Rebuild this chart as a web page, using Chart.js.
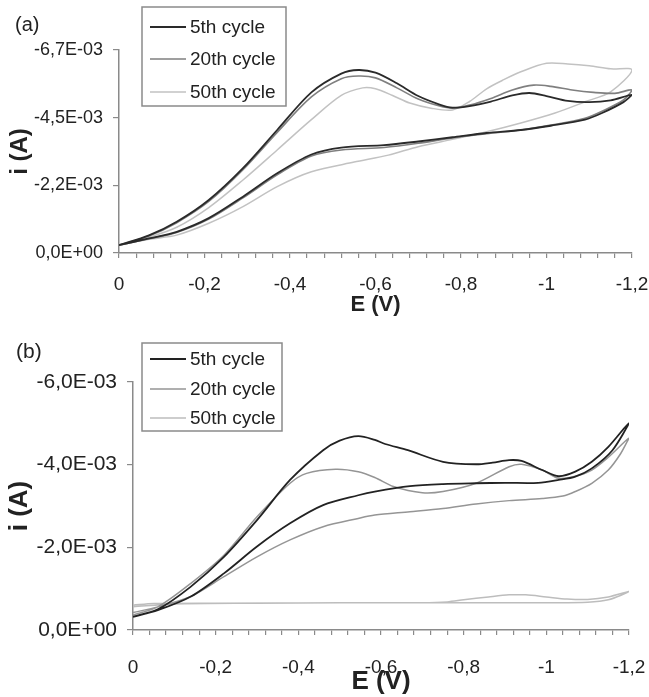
<!DOCTYPE html>
<html>
<head>
<meta charset="utf-8">
<script src="https://cdn.jsdelivr.net/npm/chart.js@4.4.0/dist/chart.umd.min.js"></script>
<style>
  body { margin: 0; background: #fff; }
  canvas { position: absolute; left: 0; }
  #chartA { top: 0; }
  #chartB { top: 330px; }
</style>
</head>
<body>
<canvas id="chartA" width="649" height="325"></canvas>
<canvas id="chartB" width="649" height="367"></canvas>
<script>
// potentials in V, currents in mA (scan 0 -> -1.2 V and back)
const a5E = [0,-0.07,-0.135,-0.21,-0.29,-0.37,-0.45,-0.52,-0.56,-0.6,-0.65,-0.7,-0.75,-0.78,-0.82,-0.87,-0.92,-0.96,-1.0,-1.05,-1.1,-1.15,-1.2,
  -1.18,-1.13,-1.09,-1.01,-0.94,-0.86,-0.78,-0.7,-0.62,-0.52,-0.45,-0.37,-0.29,-0.21,-0.135,-0.07,0];
const a5I = [-0.26,-0.58,-1.03,-1.75,-2.8,-4.06,-5.3,-5.92,-6.04,-5.95,-5.6,-5.18,-4.9,-4.8,-4.85,-5.0,-5.2,-5.28,-5.18,-5.02,-4.98,-5.04,-5.22,
  -4.98,-4.62,-4.4,-4.2,-4.06,-3.96,-3.82,-3.68,-3.56,-3.48,-3.25,-2.63,-1.86,-1.15,-0.7,-0.48,-0.26];

const a20E = [0,-0.07,-0.135,-0.21,-0.29,-0.37,-0.45,-0.52,-0.56,-0.6,-0.65,-0.7,-0.75,-0.78,-0.82,-0.87,-0.92,-0.97,-1.01,-1.06,-1.11,-1.16,-1.2,
  -1.18,-1.13,-1.09,-1.01,-0.94,-0.86,-0.78,-0.7,-0.62,-0.52,-0.45,-0.37,-0.29,-0.21,-0.135,-0.07,0];
const a20I = [-0.26,-0.56,-1.0,-1.7,-2.75,-3.98,-5.15,-5.75,-5.84,-5.78,-5.45,-5.08,-4.85,-4.78,-4.88,-5.1,-5.38,-5.54,-5.5,-5.38,-5.3,-5.27,-5.38,
  -5.05,-4.68,-4.45,-4.22,-4.06,-3.94,-3.8,-3.62,-3.48,-3.4,-3.2,-2.58,-1.82,-1.12,-0.68,-0.47,-0.26];

const a50E = [0,-0.07,-0.135,-0.21,-0.29,-0.37,-0.45,-0.52,-0.57,-0.6,-0.64,-0.68,-0.73,-0.78,-0.82,-0.86,-0.9,-0.94,-1.0,-1.05,-1.1,-1.15,-1.2,
  -1.15,-1.09,-1.02,-0.94,-0.86,-0.78,-0.7,-0.63,-0.55,-0.45,-0.37,-0.29,-0.21,-0.135,-0.07,0];
const a50I = [-0.26,-0.52,-0.85,-1.5,-2.41,-3.4,-4.4,-5.2,-5.45,-5.42,-5.2,-4.95,-4.78,-4.72,-5.0,-5.42,-5.72,-5.98,-6.26,-6.24,-6.18,-6.08,-6.04,
  -5.32,-4.99,-4.62,-4.29,-4.0,-3.75,-3.51,-3.23,-3.0,-2.68,-2.19,-1.53,-0.98,-0.59,-0.45,-0.26];

const b5E = [0,-0.06,-0.14,-0.22,-0.3,-0.38,-0.46,-0.5,-0.545,-0.585,-0.61,-0.665,-0.75,-0.83,-0.87,-0.91,-0.94,-0.99,-1.03,-1.07,-1.11,-1.15,-1.2,
  -1.16,-1.11,-1.07,-1.03,-0.98,-0.9,-0.83,-0.75,-0.67,-0.585,-0.545,-0.46,-0.38,-0.3,-0.22,-0.14,-0.06,0];
const b5I = [-0.32,-0.5,-1.05,-1.77,-2.66,-3.63,-4.35,-4.58,-4.69,-4.6,-4.5,-4.35,-4.07,-4.01,-4.05,-4.11,-4.09,-3.87,-3.72,-3.83,-4.07,-4.43,-5.01,
  -4.35,-3.91,-3.71,-3.63,-3.56,-3.56,-3.55,-3.53,-3.48,-3.35,-3.26,-3.02,-2.58,-2.02,-1.37,-0.81,-0.48,-0.32];

const b20E = [0,-0.06,-0.14,-0.22,-0.3,-0.38,-0.42,-0.49,-0.545,-0.585,-0.63,-0.7,-0.75,-0.83,-0.91,-0.94,-0.99,-1.03,-1.07,-1.11,-1.15,-1.2,
  -1.18,-1.15,-1.11,-1.07,-1.04,-0.99,-0.91,-0.83,-0.75,-0.67,-0.585,-0.545,-0.46,-0.38,-0.3,-0.22,-0.14,-0.06,0];
const b20I = [-0.36,-0.56,-1.13,-1.81,-2.74,-3.55,-3.79,-3.89,-3.83,-3.69,-3.47,-3.32,-3.35,-3.55,-3.95,-4.01,-3.87,-3.67,-3.72,-3.87,-4.18,-4.64,
  -4.27,-3.87,-3.55,-3.35,-3.24,-3.18,-3.13,-3.05,-2.94,-2.86,-2.78,-2.7,-2.5,-2.18,-1.77,-1.29,-0.81,-0.56,-0.42];

const b50E = [0,-0.1,-0.3,-0.5,-0.7,-0.76,-0.8,-0.86,-0.91,-0.95,-1.0,-1.05,-1.1,-1.15,-1.2,
  -1.15,-1.1,-1.0,-0.8,-0.5,-0.2,-0.05,0];
const b50I = [-0.56,-0.63,-0.65,-0.66,-0.66,-0.68,-0.73,-0.8,-0.85,-0.85,-0.8,-0.75,-0.74,-0.8,-0.93,
  -0.73,-0.67,-0.66,-0.66,-0.66,-0.65,-0.64,-0.6];

const cycleLabels = ["5th cycle", "20th cycle", "50th cycle"];
const yTicksA = [0, -0.0022333, -0.0044667, -0.0067];
const yTicksB = [0, -0.002, -0.004, -0.006];
const xMajor = [0, -0.2, -0.4, -0.6, -0.8, -1, -1.2];
const xLabels = ["0", "-0,2", "-0,4", "-0,6", "-0,8", "-1", "-1,2"];

const FONT = "Arial, 'Liberation Sans', sans-serif";

function fmtCurrent(v) {
  if (Math.abs(v) < 1e-9) return "0,0E+00";
  return (v * 1000).toFixed(1).replace(".", ",") + "E-03";
}

// minor ticks every 0.04 V
const xMinor = [];
for (let k = 0; k <= 30; k++) xMinor.push(-k * 0.04);

const panelDecor = {
  id: "panelDecor",
  afterDraw(chart, args, o) {
    const ctx = chart.ctx;
    ctx.save();
    ctx.fillStyle = "#222";
    ctx.textBaseline = "middle";
    ctx.font = o.tagFont;
    ctx.fillText(o.tag, o.tagX, o.tagY);
    const b = o.box;
    ctx.fillStyle = "#fff";
    ctx.fillRect(b[0], b[1], b[2], b[3]);
    ctx.strokeStyle = "#8a8a8a";
    ctx.lineWidth = 1.5;
    ctx.strokeRect(b[0], b[1], b[2], b[3]);
    ctx.font = o.font;
    chart.data.datasets.forEach((ds, k) => {
      const y = o.rows[k];
      ctx.strokeStyle = ds.borderColor;
      ctx.lineWidth = ds.borderWidth;
      ctx.beginPath();
      ctx.moveTo(o.lineX[0], y);
      ctx.lineTo(o.lineX[1], y);
      ctx.stroke();
      ctx.fillStyle = "#222";
      ctx.fillText(ds.label, o.textX, y + 1);
    });
    ctx.restore();
  }
};

function makeChart(id, p) {
  const datasets = p.series.map((s, k) => ({
    label: cycleLabels[k],
    data: s.E.map((e, j) => ({ x: e, y: s.I[j] * 1e-3 })),
    showLine: true,
    borderColor: p.colors[k],
    borderWidth: p.widths[k],
    pointRadius: 0,
    fill: false,
    tension: 0.3
  }));
  return new Chart(document.getElementById(id).getContext("2d"), {
    type: "scatter",
    data: { datasets: datasets },
    options: {
      responsive: false,
      animation: false,
      layout: { padding: p.padding },
      plugins: {
        legend: { display: false },
        tooltip: { enabled: false },
        panelDecor: p.decor
      },
      scales: {
        x: {
          type: "linear",
          reverse: true,
          min: -1.2,
          max: 0,
          afterBuildTicks: (sc) => { sc.ticks = xMinor.map(v => ({ value: v })); },
          afterFit: (sc) => {
            sc.height = p.xHeight;
            sc.paddingLeft = 0;
            sc.paddingRight = 0;
          },
          grid: { drawOnChartArea: false, drawTicks: true, tickLength: 5, color: "#8a8a8a", lineWidth: 1.2 },
          border: { display: true, color: "#8a8a8a", width: 1.5 },
          ticks: {
            autoSkip: false,
            maxRotation: 0,
            padding: p.xPad,
            color: "#222",
            font: { family: FONT, size: p.xFont },
            callback: (v) => {
              const k = xMajor.findIndex(m => Math.abs(m - v) < 1e-6);
              return k >= 0 ? xLabels[k] : "";
            }
          },
          title: {
            display: true,
            text: "E (V)",
            color: "#222",
            font: { family: FONT, size: p.xTitleFont, weight: "bold", lineHeight: 1 },
            padding: { top: 0, bottom: p.xTitlePad }
          }
        },
        y: {
          type: "linear",
          reverse: true,
          min: p.yTicks[3],
          max: 0,
          afterBuildTicks: (sc) => { sc.ticks = p.yTicks.map(v => ({ value: v })); },
          afterFit: (sc) => {
            sc.width = p.yWidth;
            sc.paddingTop = 0;
            sc.paddingBottom = 0;
          },
          grid: { drawOnChartArea: false, drawTicks: true, tickLength: 6, color: "#8a8a8a", lineWidth: 1.2 },
          border: { display: true, color: "#8a8a8a", width: 1.5 },
          ticks: {
            padding: 10,
            color: "#222",
            font: { family: FONT, size: p.yFont },
            callback: (v) => fmtCurrent(v)
          },
          title: {
            display: true,
            text: "i (A)",
            color: "#222",
            font: { family: FONT, size: p.yTitleFont, weight: "bold", lineHeight: 1 },
            padding: { top: p.yTitlePad, bottom: 0 }
          }
        }
      }
    },
    plugins: [panelDecor]
  });
}

makeChart("chartA", {
  series: [{ E: a5E, I: a5I }, { E: a20E, I: a20I }, { E: a50E, I: a50I }],
  colors: ["#2a2a2a", "#7f7f7f", "#c2c2c2"],
  widths: [1.8, 1.6, 1.5],
  yTicks: yTicksA,
  padding: { left: 0, top: 50, right: 17, bottom: 0 },
  yWidth: 119, xHeight: 72,
  xPad: 15, xFont: 19, xTitleFont: 22, xTitlePad: 9,
  yFont: 18, yTitleFont: 24, yTitlePad: 8,
  decor: {
    tag: "(a)", tagX: 15, tagY: 25, tagFont: "20px " + FONT,
    box: [142, 7, 144, 99], rows: [27, 59, 92], lineX: [150, 186], textX: 190,
    font: "19px " + FONT
  }
});

makeChart("chartB", {
  series: [{ E: b5E, I: b5I }, { E: b20E, I: b20I }, { E: b50E, I: b50I }],
  colors: ["#222222", "#959595", "#bdbdbd"],
  widths: [1.8, 1.5, 1.5],
  yTicks: yTicksB,
  padding: { left: 0, top: 52, right: 20, bottom: 0 },
  yWidth: 133, xHeight: 67,
  xPad: 21, xFont: 19, xTitleFont: 26, xTitlePad: 2,
  yFont: 21, yTitleFont: 26, yTitlePad: 7,
  decor: {
    tag: "(b)", tagX: 16, tagY: 22, tagFont: "21px " + FONT,
    box: [142, 13, 140, 88], rows: [29, 59, 88], lineX: [150, 186], textX: 190,
    font: "19px " + FONT
  }
});
</script>
</body>
</html>
